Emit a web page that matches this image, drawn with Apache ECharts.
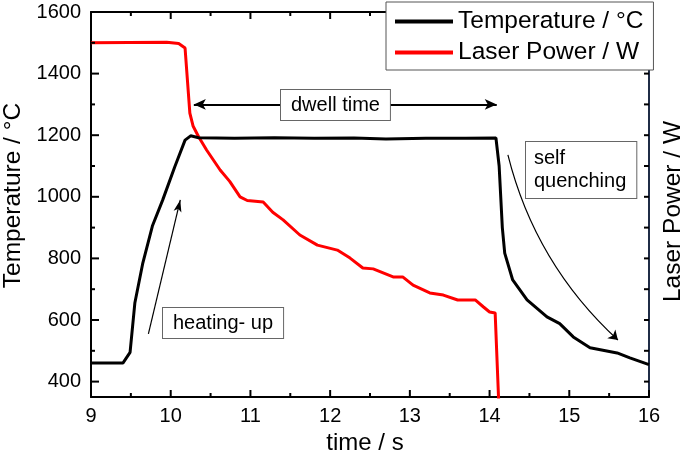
<!DOCTYPE html>
<html>
<head>
<meta charset="utf-8">
<script src="https://cdn.jsdelivr.net/npm/echarts@6/dist/echarts.min.js"></script>
<style>
  html, body { margin: 0; padding: 0; background: #fff; }
  #chart { width: 685px; height: 453px; }
</style>
</head>
<body>
<div id="chart"></div>
<script>
// 温度曲线 [time s, °C]
const temperature = [
  [9, 460], [9.40, 460], [9.49, 495], [9.55, 655], [9.65, 785], [9.77, 905],
  [9.90, 990], [10.05, 1097], [10.18, 1184], [10.25, 1198], [10.35, 1192],
  [10.8, 1190], [11.3, 1192], [11.8, 1190], [12.3, 1191], [12.7, 1188],
  [13.2, 1190], [13.7, 1190], [14.08, 1191], [14.12, 1100], [14.16, 900],
  [14.19, 817], [14.29, 730], [14.47, 665], [14.72, 610], [14.88, 588],
  [15.05, 545], [15.26, 510], [15.60, 493], [15.76, 477], [16, 455]
];
// 激光功率 [time s, W]
const laserPower = [
  [9, 1500], [9.95, 1502], [10.1, 1498], [10.18, 1483], [10.24, 1272],
  [10.28, 1230], [10.35, 1195], [10.45, 1152], [10.62, 1087], [10.74, 1050],
  [10.87, 1000], [10.96, 988], [11.16, 983], [11.28, 950], [11.41, 925],
  [11.62, 876], [11.84, 843], [12.09, 827], [12.25, 801], [12.41, 769],
  [12.54, 766], [12.79, 740], [12.91, 740], [13.04, 713], [13.25, 688],
  [13.42, 681], [13.6, 665], [13.82, 665], [13.92, 643], [14.0, 626],
  [14.07, 623], [14.12, 300]
];
// 坐标刻度
const xMajorTicks = [9, 10, 11, 12, 13, 14, 15, 16];
const xMinorTicks = [9.5, 10.5, 11.5, 12.5, 13.5, 14.5, 15.5];
const yMajorTicks = [400, 600, 800, 1000, 1200, 1400, 1600];
const yMinorTicks = [500, 700, 900, 1100, 1300, 1500];
const rightTicks = [400, 500, 600, 700, 800, 900, 1000, 1100, 1200, 1300, 1400, 1500];
// 注释箭头 (数据坐标)
const dwellArrow = [[10.29, 1300], [14.09, 1300]];
const heatArrow = [[9.72, 555], [10.12, 990]];
const quenchArrow = [[14.23, 1136], [15.61, 535]];

const FONT = 'Liberation Sans, Arial, sans-serif';
const chart = echarts.init(document.getElementById('chart'));

const xBase = {
  type: 'value', min: 9, max: 16, interval: 1,
  axisLine: { show: true, onZero: false, lineStyle: { color: '#000', width: 2 } },
  axisTick: { show: false },
  splitLine: { show: false }
};
const yBase = {
  type: 'value', min: 350, max: 1600,
  axisTick: { show: false },
  splitLine: { show: false }
};
const arrowLine = { type: 'solid', color: '#000', width: 1.2 };

chart.setOption({
  animation: false,
  textStyle: { fontFamily: FONT },
  grid: { left: 91, right: 36, top: 12, bottom: 56, containLabel: false, outerBoundsMode: 'none' },
  legend: {
    left: 386, top: 2, orient: 'vertical',
    padding: [7, 10, 5, 9], itemGap: 6,
    itemWidth: 58, itemHeight: 4, icon: 'rect',
    backgroundColor: '#fff', borderColor: '#555', borderWidth: 1,
    textStyle: { fontSize: 24.5, lineHeight: 24, color: '#000', fontFamily: FONT },
    data: ['Temperature / °C', 'Laser Power / W'],
    z: 100
  },
  xAxis: [
    Object.assign({}, xBase, {
      position: 'bottom',
      name: 'time / s', nameLocation: 'middle', nameGap: 33,
      nameTextStyle: { fontSize: 24, color: '#000', verticalAlign: 'top', padding: [0, 10, 0, 0] },
      axisLabel: { fontSize: 20, color: '#000', margin: 9 }
    }),
    Object.assign({}, xBase, { position: 'top', axisLabel: { show: false } })
  ],
  yAxis: [
    Object.assign({}, yBase, {
      position: 'left',
      name: 'Temperature / °C', nameLocation: 'middle', nameGap: 65, nameRotate: 90,
      nameTextStyle: { fontSize: 24.5, color: '#000', padding: [0, 0, 0, 18] },
      axisLine: { show: true, onZero: false, lineStyle: { color: '#000', width: 2 } },
      axisLabel: { fontSize: 20, color: '#000', margin: 10, customValues: yMajorTicks, formatter: v => String(v) }
    }),
    Object.assign({}, yBase, {
      position: 'right',
      name: 'Laser Power / W', nameLocation: 'middle', nameGap: 12, nameRotate: 90,
      nameTextStyle: { fontSize: 24.5, color: '#000', verticalAlign: 'top', padding: [0, 14, 0, 0] },
      axisLine: { show: true, onZero: false, lineStyle: { color: '#1f2c46', width: 2 } },
      axisLabel: { show: false }
    })
  ],
  series: [
    {
      name: 'Temperature / °C', type: 'line', xAxisIndex: 0, yAxisIndex: 0,
      data: temperature, showSymbol: false, symbol: 'none',
      lineStyle: { color: '#000', width: 3 }, itemStyle: { color: '#000' },
      z: 3,
      markLine: {
        silent: true, animation: false,
        label: { show: false },
        lineStyle: arrowLine,
        data: [
          [
            { coord: dwellArrow[0], symbol: 'arrow', symbolSize: [8, 12], lineStyle: { type: 'solid', width: 2, color: '#000' } },
            { coord: dwellArrow[1], symbol: 'arrow', symbolSize: [8, 12] }
          ],
          [
            { coord: heatArrow[0], symbol: 'none' },
            { coord: heatArrow[1], symbol: 'arrow', symbolSize: [6, 12] }
          ]
        ]
      }
    },
    {
      name: 'Laser Power / W', type: 'line', xAxisIndex: 0, yAxisIndex: 1,
      data: laserPower, showSymbol: false, symbol: 'none',
      lineStyle: { color: '#ff0000', width: 3 }, itemStyle: { color: '#ff0000' },
      z: 2
    },
    {
      // 自淬火弯箭头
      name: 'quench arrow', type: 'lines', coordinateSystem: 'cartesian2d',
      xAxisIndex: 0, yAxisIndex: 0, silent: true, z: 4,
      symbol: ['none', 'arrow'], symbolSize: 9,
      lineStyle: { color: '#000', width: 1.2, opacity: 1, curveness: -0.15 },
      data: [{ coords: quenchArrow }]
    }
  ]
});

// 注释文本框
const boxStyle = { font: '20px ' + FONT, fill: '#000', backgroundColor: '#fff', borderColor: '#666', borderWidth: 1 };
const graphics = [
  { type: 'text', left: 280, top: 89, z: 50, style: Object.assign({ text: 'dwell time', padding: [5, 10, 5, 10] }, boxStyle) },
  { type: 'text', left: 162, top: 307, z: 50, style: Object.assign({ text: 'heating- up', padding: [5, 10, 5, 10] }, boxStyle) },
  { type: 'text', left: 525, top: 141, z: 50, style: Object.assign({ text: 'self\nquenching', lineHeight: 23, padding: [5, 10, 5, 8] }, boxStyle) }
];

// 刻度线：按坐标轴换算像素位置，刻度朝内（图例 z 更高，会盖住其下方的刻度）
const tick = (x1, y1, x2, y2) => ({
  type: 'rect', z: 60, silent: true,
  shape: { x: Math.min(x1, x2) - (x1 === x2 ? 1 : 0), y: Math.min(y1, y2) - (y1 === y2 ? 1 : 0),
           width: x1 === x2 ? 2 : Math.abs(x2 - x1), height: y1 === y2 ? 2 : Math.abs(y2 - y1) },
  style: { fill: '#000' }
});
const px = v => chart.convertToPixel({ xAxisIndex: 0 }, v);
const py = v => chart.convertToPixel({ yAxisIndex: 0 }, v);
const xL = px(9), xR = px(16), yB = py(350), yT = py(1600);
xMajorTicks.forEach(v => { graphics.push(tick(px(v), yB, px(v), yB - 7), tick(px(v), yT, px(v), yT + 7)); });
xMinorTicks.forEach(v => { graphics.push(tick(px(v), yB, px(v), yB - 4), tick(px(v), yT, px(v), yT + 4)); });
yMajorTicks.forEach(v => { graphics.push(tick(xL, py(v), xL + 8, py(v))); });
yMinorTicks.forEach(v => { graphics.push(tick(xL, py(v), xL + 4, py(v))); });
rightTicks.forEach(v => { graphics.push(tick(xR, py(v), xR - 5, py(v))); });

chart.setOption({ graphic: graphics });
</script>
</body>
</html>
